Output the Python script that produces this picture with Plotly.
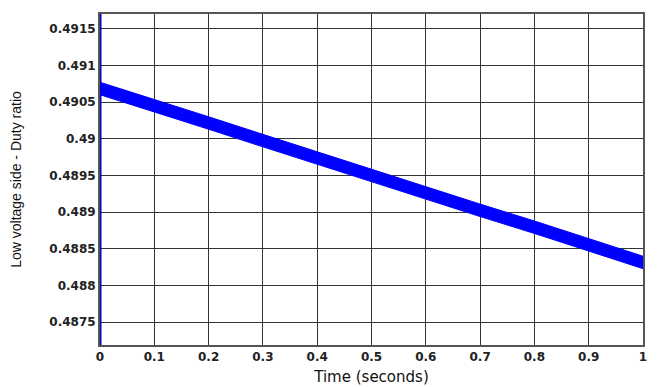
import plotly.graph_objects as go

# Data
time_s = [0.0, 0.1, 0.2, 0.3, 0.4, 0.5, 0.6, 0.7, 0.8, 0.9, 1.0]
duty_upper = [0.49077, 0.49054, 0.49030, 0.49006, 0.48982, 0.48959, 0.48935, 0.48911, 0.48888, 0.48864, 0.48840]
duty_lower = [0.49060, 0.49037, 0.49013, 0.48989, 0.48965, 0.48942, 0.48918, 0.48894, 0.48871, 0.48847, 0.48823]
# initial transient (vertical jump at t = 0)
start_t = [0.0, 0.0, 0.0]
start_d = [0.0, 0.5, 0.4907]

x_ticks = [0, 0.1, 0.2, 0.3, 0.4, 0.5, 0.6, 0.7, 0.8, 0.9, 1]
x_labels = ["0", "0.1", "0.2", "0.3", "0.4", "0.5", "0.6", "0.7", "0.8", "0.9", "1"]
y_ticks = [0.4875, 0.488, 0.4885, 0.489, 0.4895, 0.49, 0.4905, 0.491, 0.4915]
y_labels = ["0.4875", "0.488", "0.4885", "0.489", "0.4895", "0.49", "0.4905", "0.491", "0.4915"]

blue = "#0000ff"
fig = go.Figure()
fig.add_trace(go.Scatter(x=time_s, y=duty_lower, mode="lines",
                         line=dict(color=blue, width=1), showlegend=False))
fig.add_trace(go.Scatter(x=time_s, y=duty_upper, mode="lines", fill="tonexty",
                         fillcolor=blue, line=dict(color=blue, width=1), showlegend=False))
fig.add_trace(go.Scatter(x=start_t, y=start_d, mode="lines",
                         line=dict(color="#0000cc", width=3), showlegend=False))

tick_font = dict(family="DejaVu Sans", size=12, color="#222222", weight="bold")
fig.update_layout(
    width=651, height=379,
    margin=dict(l=92, r=16, t=4, b=36),
    paper_bgcolor="white", plot_bgcolor="white",
    xaxis=dict(range=[0, 1], tickvals=x_ticks, ticktext=x_labels, tickfont=tick_font,
               showgrid=True, gridcolor="#333333", gridwidth=1, zeroline=False,
               showline=True, linecolor="#555555", linewidth=2, mirror=True,
               ticks="", ticklen=0,
               title=dict(text="Time (seconds)", standoff=8,
                          font=dict(family="DejaVu Sans", size=15, color="#111111"))),
    yaxis=dict(range=[0.48719, 0.49170], tickvals=y_ticks, ticktext=y_labels, tickfont=tick_font,
               showgrid=True, gridcolor="#333333", gridwidth=1, zeroline=False,
               showline=True, linecolor="#555555", linewidth=2, mirror=True,
               ticks="", ticklen=0,
               title=dict(text="Low voltage side - Duty ratio", standoff=24,
                          font=dict(family="Liberation Sans", size=14, color="#111111"))),
)
fig.write_html("out.html")
